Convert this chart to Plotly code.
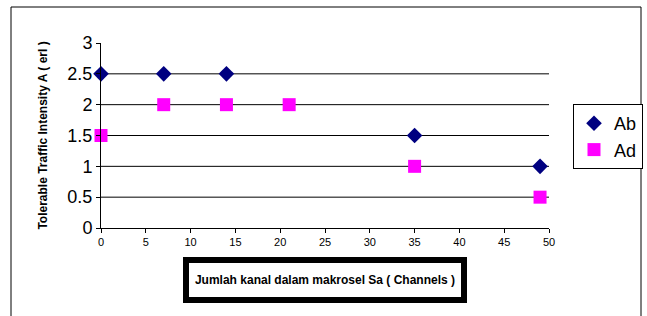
import plotly.graph_objects as go

ab_x = [0, 7, 14, 35, 49]
ab_y = [2.5, 2.5, 2.5, 1.5, 1.0]
ad_x = [0, 7, 14, 21, 35, 49]
ad_y = [1.5, 2.0, 2.0, 2.0, 1.0, 0.5]
y_ticks = [0, 0.5, 1, 1.5, 2, 2.5, 3]
x_ticks = [0, 5, 10, 15, 20, 25, 30, 35, 40, 45, 50]

FONT = "Liberation Sans, Arial, sans-serif"

fig = go.Figure()
fig.add_trace(go.Scatter(x=ab_x, y=ab_y, mode="markers", name="Ab", cliponaxis=False,
                         marker=dict(symbol="diamond", size=12, color="#000080")))
fig.add_trace(go.Scatter(x=ad_x, y=ad_y, mode="markers", name="Ad", cliponaxis=False,
                         marker=dict(symbol="square", size=13, color="#FF00FF")))

for v in y_ticks[1:-1]:
    fig.add_shape(type="line", xref="paper", yref="y", x0=0, x1=1, y0=v, y1=v,
                  line=dict(color="#000000", width=1), layer="below")

# outer frame
fig.add_shape(type="rect", xref="paper", yref="paper",
              x0=(11 - 101) / 448, x1=(641 - 101) / 448,
              y0=(228 - 320) / 185, y1=(228 - 7) / 185,
              line=dict(color="#000000", width=1))

fig.add_annotation(text="<b>Jumlah kanal dalam makrosel Sa ( Channels )</b>",
                   xref="paper", yref="paper",
                   x=(325 - 101) / 448, y=(228 - 280) / 185,
                   xanchor="center", yanchor="middle", showarrow=False,
                   font=dict(family=FONT, size=12, color="#000000"),
                   bgcolor="#FFFFFF", bordercolor="#000000", borderwidth=6,
                   borderpad=2, width=268, height=30)

fig.update_layout(
    width=647, height=316,
    margin=dict(l=101, r=98, t=43, b=88, autoexpand=False),
    paper_bgcolor="#FFFFFF", plot_bgcolor="#FFFFFF",
    font=dict(family=FONT, color="#000000"),
    showlegend=True,
    legend=dict(x=(573 - 101) / 448, y=(228 - 104) / 185, xanchor="left", yanchor="top",
                bordercolor="#000000", borderwidth=1, bgcolor="#FFFFFF",
                font=dict(family=FONT, size=18, color="#000000"),
                tracegroupgap=0, itemwidth=30),
    xaxis=dict(range=[0, 50], tickvals=x_ticks, showgrid=False, zeroline=False,
               showline=True, linecolor="#000000", linewidth=1, automargin=False,
               ticks="outside", ticklen=4, tickcolor="#000000",
               tickfont=dict(family=FONT, size=11)),
    yaxis=dict(range=[0, 3], tickvals=y_ticks, ticktext=[str(v) for v in y_ticks],
               showgrid=False, zeroline=False, automargin=False,
               showline=True, linecolor="#000000", linewidth=1,
               ticks="outside", ticklen=4, tickcolor="#000000",
               tickfont=dict(family=FONT, size=18),
               title=dict(text="<b>Tolerable Traffic Intensity A ( erl )</b>",
                          font=dict(family=FONT, size=12), standoff=17)),
)

fig.write_html("out.html", config={"displayModeBar": False},
               post_script="document.body.style.margin='0px';")
